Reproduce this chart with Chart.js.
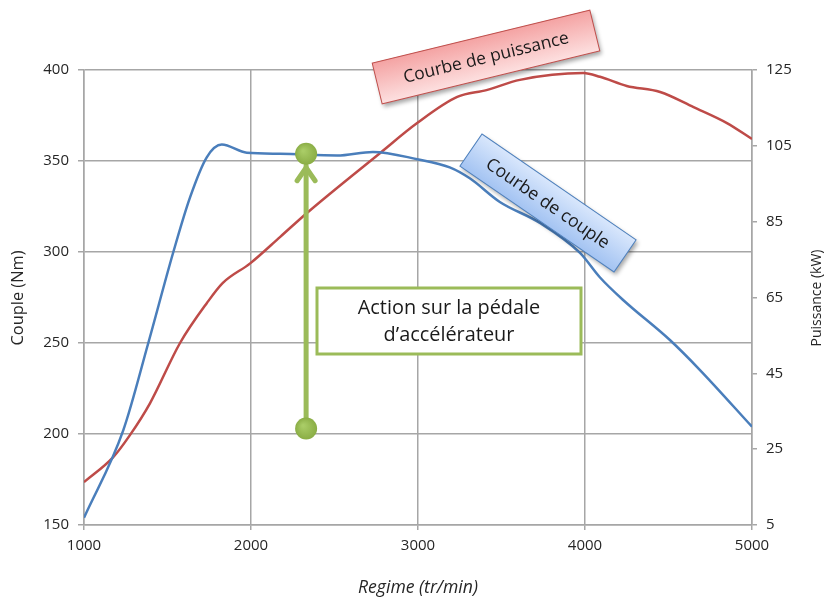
<!DOCTYPE html>
<html>
<head>
<meta charset="utf-8">
<script src="https://cdn.jsdelivr.net/npm/chart.js@4.4.1/dist/chart.umd.min.js"></script>
<style>
html, body { margin: 0; padding: 0; background: #fff; }
#wrap { position: relative; width: 830px; height: 599px; }
</style>
</head>
<body>
<div id="wrap"><canvas id="chart"></canvas></div>
<script>
// Courbe de couple (Nm) vs régime
var torqueRpm = [1000, 1235, 1385, 1535, 1635, 1735, 1825, 1975, 2175, 2515, 2730, 2995, 3190, 3310, 3490, 3730, 3970, 4090, 4230, 4510, 4690, 5000];
var torqueNm  = [154, 202, 250, 300, 330, 352, 359, 354.5, 354, 353, 355, 351, 346.5, 340.5, 327.5, 316, 299.5, 286, 273.5, 251.5, 235, 204];

// Courbe de puissance (kW) vs régime
var powerRpm = [1000, 1175, 1275, 1395, 1575, 1735, 1830, 1995, 2175, 2335, 2770, 2995, 3235, 3410, 3610, 3990, 4090, 4250, 4450, 4650, 4850, 5000];
var powerKw  = [16.3, 22.9, 28.7, 37.1, 53, 63.5, 68.8, 74, 81, 87.3, 103, 111, 117.9, 119.7, 122.4, 124.2, 123.2, 120.8, 119.2, 115.2, 111, 106.8];

// axis ticks
var rpmTicks = [1000, 2000, 3000, 4000, 5000];
var torqueTicks = [150, 200, 250, 300, 350, 400];
var powerTicks = [5, 25, 45, 65, 85, 105, 125];

// pedal action arrow (régime, couple bas -> couple haut)
var pedalRpm = 2330;
var pedalFrom = 203;
var pedalTo = 354;

var FONT = '"Open Sans", Lato, sans-serif';
var GRID = '#a6a6a6';
var TEXT = '#262626';

function toXY(xs, ys) {
    return xs.map(function (x, i) { return { x: x, y: ys[i] }; });
}

function setTicks(list) {
    return function (scale) {
        scale.ticks = list.map(function (v) { return { value: v }; });
    };
}

function plain(v) { return String(v); }

// pick a font size so that text spans roughly the given width
function fitFont(ctx, text, width, style) {
    style = style || '';
    ctx.font = style + ' 20px ' + FONT;
    var size = 20 * width / ctx.measureText(text).width;
    ctx.font = style + ' ' + size.toFixed(1) + 'px ' + FONT;
}

function drawBox(ctx, cx, cy, w, h, angle, c1, c2, stroke, text, textW) {
    ctx.save();
    ctx.translate(cx, cy);
    ctx.rotate(angle);
    var g = ctx.createLinearGradient(0, -h / 2, 0, h / 2);
    g.addColorStop(0, c1);
    g.addColorStop(1, c2);
    ctx.shadowColor = 'rgba(0,0,0,0.35)';
    ctx.shadowBlur = 4;
    ctx.shadowOffsetX = 2;
    ctx.shadowOffsetY = 3;
    ctx.fillStyle = g;
    ctx.fillRect(-w / 2, -h / 2, w, h);
    ctx.shadowColor = 'transparent';
    ctx.strokeStyle = stroke;
    ctx.lineWidth = 1;
    ctx.strokeRect(-w / 2, -h / 2, w, h);
    ctx.fillStyle = '#1a1a1a';
    fitFont(ctx, text, textW);
    ctx.textAlign = 'center';
    ctx.textBaseline = 'middle';
    ctx.fillText(text, 0, 1);
    ctx.restore();
}

function drawDot(ctx, x, y) {
    var g = ctx.createRadialGradient(x - 3, y - 3, 1, x, y, 11);
    g.addColorStop(0, '#a9cc66');
    g.addColorStop(1, '#8aad45');
    ctx.beginPath();
    ctx.arc(x, y, 11, 0, Math.PI * 2);
    ctx.fillStyle = g;
    ctx.fill();
}

function vTitle(ctx, text, x, y, w) {
    ctx.save();
    ctx.fillStyle = TEXT;
    fitFont(ctx, text, w);
    ctx.textAlign = 'center';
    ctx.textBaseline = 'middle';
    ctx.translate(x, y);
    ctx.rotate(-Math.PI / 2);
    ctx.fillText(text, 0, 0);
    ctx.restore();
}

var annotations = {
    id: 'annotations',
    afterDatasetsDraw: function (chart) {
        var ctx = chart.ctx;
        var xs = chart.scales.x, ys = chart.scales.y;

        // pedal arrow
        var px = xs.getPixelForValue(pedalRpm);
        var pb = ys.getPixelForValue(pedalFrom);
        var pt = ys.getPixelForValue(pedalTo);
        ctx.save();
        ctx.strokeStyle = '#9bbb59';
        ctx.lineWidth = 5;
        ctx.lineCap = 'round';
        ctx.lineJoin = 'round';
        ctx.beginPath();
        ctx.moveTo(px, pb);
        ctx.lineTo(px, pt + 12);
        ctx.stroke();
        ctx.beginPath();
        ctx.moveTo(px - 9, pt + 27);
        ctx.lineTo(px, pt + 14);
        ctx.lineTo(px + 9, pt + 27);
        ctx.stroke();
        ctx.restore();
        drawDot(ctx, px, pt);
        drawDot(ctx, px, pb);

        // text box
        ctx.save();
        ctx.fillStyle = '#fff';
        ctx.strokeStyle = '#9bbb59';
        ctx.lineWidth = 3;
        ctx.fillRect(317, 288, 264, 66);
        ctx.strokeRect(317, 288, 264, 66);
        ctx.fillStyle = '#1a1a1a';
        fitFont(ctx, 'Action sur la pédale', 183);
        ctx.textAlign = 'center';
        ctx.textBaseline = 'middle';
        ctx.fillText('Action sur la pédale', 449, 308);
        ctx.fillText('d\u2019accélérateur', 449, 335);
        ctx.restore();

        // curve labels
        drawBox(ctx, 486, 57, 224, 42, -13.7 * Math.PI / 180, '#f4a3a3', '#fde0e0', '#c0504d', 'Courbe de puissance', 170);
        drawBox(ctx, 548, 203, 187, 39, 34.5 * Math.PI / 180, '#d9e7fc', '#a3c3f2', '#4f81bd', 'Courbe de couple', 146);

        // axis titles
        vTitle(ctx, 'Couple (Nm)', 18, 298, 95);
        vTitle(ctx, 'Puissance (kW)', 817, 298, 97);

        ctx.save();
        ctx.fillStyle = TEXT;
        fitFont(ctx, 'Regime (tr/min)', 120, 'italic');
        ctx.textAlign = 'center';
        ctx.textBaseline = 'middle';
        ctx.fillText('Regime (tr/min)', 418, 588);
        ctx.restore();
    }
};

var tickFont = { family: FONT, size: 15 };

new Chart(document.getElementById('chart'), {
    type: 'line',
    data: {
        datasets: [
            {
                label: 'Couple',
                data: toXY(torqueRpm, torqueNm),
                yAxisID: 'y',
                borderColor: '#4a7ebb',
                borderWidth: 2.5,
                pointRadius: 0,
                cubicInterpolationMode: 'monotone',
                fill: false
            },
            {
                label: 'Puissance',
                data: toXY(powerRpm, powerKw),
                yAxisID: 'y1',
                borderColor: '#be4b48',
                borderWidth: 2.5,
                pointRadius: 0,
                cubicInterpolationMode: 'monotone',
                fill: false
            }
        ]
    },
    options: {
        responsive: true,
        maintainAspectRatio: false,
        animation: false,
        layout: { padding: { top: 70, left: 0, right: 0, bottom: 0 } },
        plugins: {
            legend: { display: false },
            tooltip: { enabled: false }
        },
        scales: {
            x: {
                type: 'linear',
                min: 1000,
                max: 5000,
                afterBuildTicks: setTicks(rpmTicks),
                afterFit: function (s) { s.height = 74; },
                grid: { color: GRID, lineWidth: 1.5, tickLength: 5 },
                border: { color: GRID, width: 1.5 },
                ticks: { font: tickFont, color: TEXT, padding: 7, callback: plain }
            },
            y: {
                position: 'left',
                min: 150,
                max: 400,
                afterBuildTicks: setTicks(torqueTicks),
                afterFit: function (s) { s.width = 84; },
                grid: { color: GRID, lineWidth: 1.5, tickLength: 6 },
                border: { color: GRID, width: 1.5 },
                ticks: { font: tickFont, color: TEXT, padding: 9, callback: plain }
            },
            y1: {
                position: 'right',
                min: 5,
                max: 125,
                afterBuildTicks: setTicks(powerTicks),
                afterFit: function (s) { s.width = 78; },
                grid: { drawOnChartArea: false, color: GRID, lineWidth: 1.5, tickLength: 5 },
                border: { color: GRID, width: 1.5 },
                ticks: { font: tickFont, color: TEXT, padding: 9, callback: plain }
            }
        }
    },
    plugins: [annotations]
});
</script>
</body>
</html>
